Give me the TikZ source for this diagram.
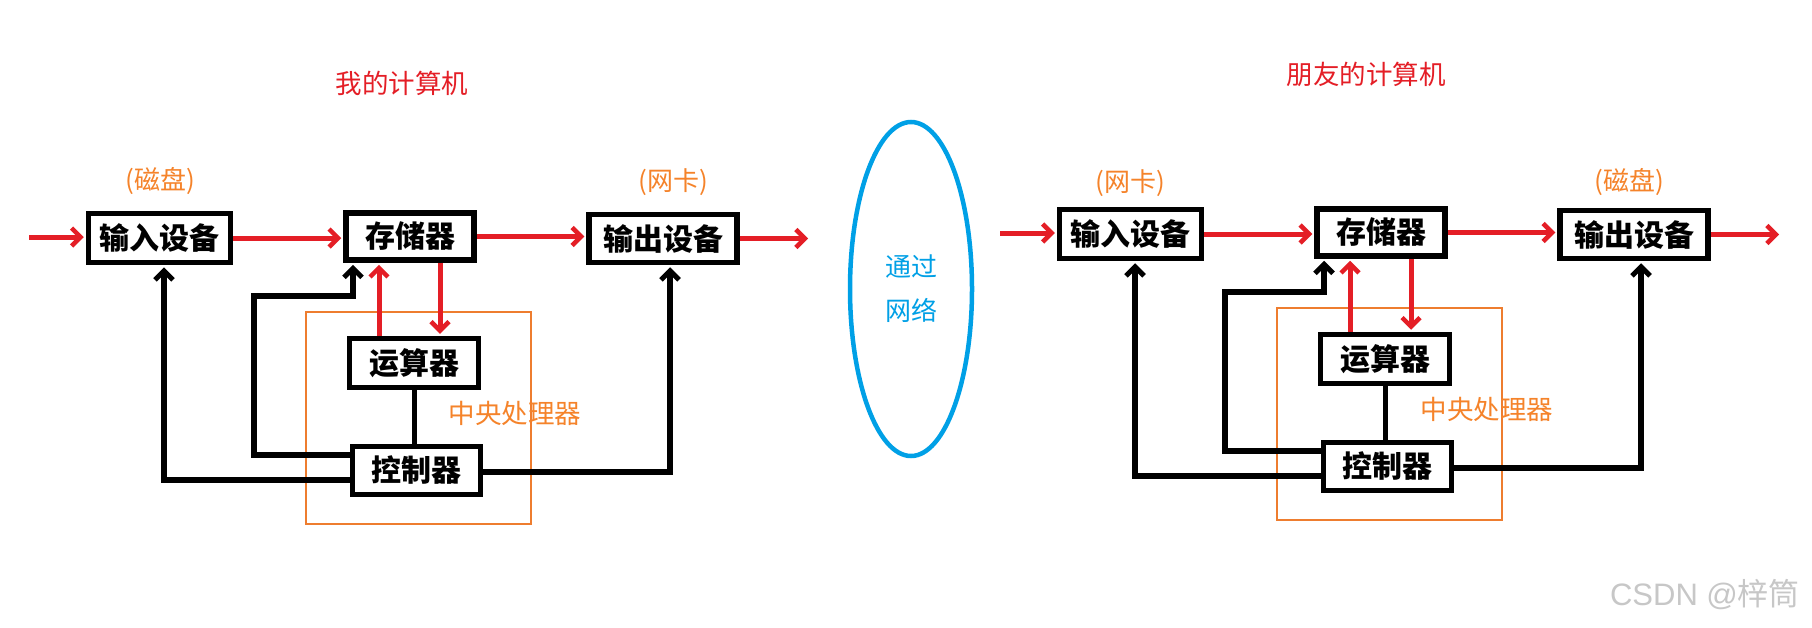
\documentclass[tikz,border=0pt]{standalone}
\usepackage{fontspec}
\newfontfamily\cjk{Noto Sans CJK SC}
\newfontfamily\arialfont{Liberation Sans}
\usetikzlibrary{arrows.meta,shapes.geometric}
\definecolor{ared}{HTML}{E41E26}
\definecolor{aorange}{HTML}{F5832A}
\definecolor{cpuorange}{HTML}{EE7D2F}
\definecolor{ablue}{HTML}{00A0E6}
\newcommand\drawcomputer[1]{%
  \node[cpubox, minimum width=225, minimum height=212] (#1cpu) at (418.5,418) {};
  \node[unit, minimum width=142, minimum height=49] (#1in) at (159.5,238) {输入设备};
  \node[unit, minimum width=128, minimum height=47] (#1mem) at (410,236.5) {存储器};
  \node[unit, minimum width=148, minimum height=48] (#1out) at (663,238.5) {输出设备};
  \node[unit, minimum width=129, minimum height=49] (#1alu) at (414,363) {运算器};
  \node[unit, minimum width=128, minimum height=48] (#1ctl) at (416.5,470.5) {控制器};
  \coordinate (#1src) at (29,237);
  \coordinate (#1dst) at (810,235);
  \coordinate (#1ru) at (379,0);
  \coordinate (#1rd) at (440,0);
  \coordinate (#1ka) at (164,480);
  \coordinate (#1kb) at (254,455);
  \coordinate (#1kc) at (353,296);
  \coordinate (#1kd) at (670,472);
  \draw[redarr] (#1src) -- (#1src -| #1in.west);
  \draw[redarr] (#1in.east) -- (#1in.east -| #1mem.west);
  \draw[redarr] (#1mem.east) -- (#1mem.east -| #1out.west);
  \draw[redarr] (#1out.east) -- (#1out.east -| #1dst);
  \draw[redarr] (#1alu.north -| #1ru) -- (#1mem.south -| #1ru);
  \draw[redarr] (#1mem.south -| #1rd) -- (#1alu.north -| #1rd);
  \draw[blkline] (#1alu.south) -- (#1alu.south |- #1ctl.north);
  \draw[blkarr] (#1ka -| #1ctl.west) -- (#1ka) -- (#1ka |- #1in.south);
  \draw[blkarr] (#1kb -| #1ctl.west) -- (#1kb) -- (#1kb |- #1kc) -- (#1kc) -- (#1kc |- #1mem.south);
  \draw[blkarr] (#1kd -| #1ctl.east) -- (#1kd) -- (#1kd |- #1out.south);
}
\begin{document}
\begin{tikzpicture}[x=1pt,y=-1pt,
  unit/.style={draw=black, line width=5.5pt, fill=white, inner sep=0pt,
    font=\cjk\bfseries\fontsize{30}{34}\selectfont},
  cpubox/.style={draw=cpuorange, line width=2.5pt, inner sep=0pt},
  redarr/.style={draw=ared, line width=5pt, shorten >=2pt,
    -{Straight Barb[length=9pt,width=18pt,line width=4.5pt]}},
  blkline/.style={draw=black, line width=5pt},
  blkarr/.style={draw=black, line width=5.5pt, shorten >=2pt,
    -{Straight Barb[length=9pt,width=18pt,line width=5pt]}},
  title/.style={text=ared, font=\cjk\fontsize{26.5}{30}\selectfont},
  dev/.style={text=aorange, font=\cjk\fontsize{26}{30}\selectfont},
  cpulabel/.style={text=aorange, font=\cjk\fontsize{26.5}{30}\selectfont},
  net/.style={ellipse, draw=ablue, line width=4.5pt, minimum width=122, minimum height=334,
    inner sep=0pt, align=center, text=ablue, font=\cjk\fontsize{26}{44}\selectfont}]
\useasboundingbox (0,0) rectangle (1812,627);
\fill[white] (0,0) rectangle (1812,627);
% left computer
\begin{scope}
  \drawcomputer{L}
\end{scope}
% right computer
\begin{scope}[shift={(971,-4)}]
  \drawcomputer{R}
\end{scope}
% labels
\node[title] (tL) at (402,83) {我的计算机};
\node[title] (tR) at (1366,74) {朋友的计算机};
\node[dev] (dLi) at (160,181) {(磁盘)};
\node[dev] (dLo) at (673,182) {(网卡)};
\node[dev] (dRi) at (1130,183) {(网卡)};
\node[dev] (dRo) at (1629,182) {(磁盘)};
\node[cpulabel] (cL) at (515,413) {中央处理器};
\node[cpulabel] (cR) at (1487,409) {中央处理器};
\node[net] (net) at (911,289) {通过\\网络};
\node[text=black!22, font=\fontsize{31}{34}\selectfont] (wm) at (1705,595) {\arialfont CSDN @\cjk 梓筒};
\end{tikzpicture}
\end{document}
